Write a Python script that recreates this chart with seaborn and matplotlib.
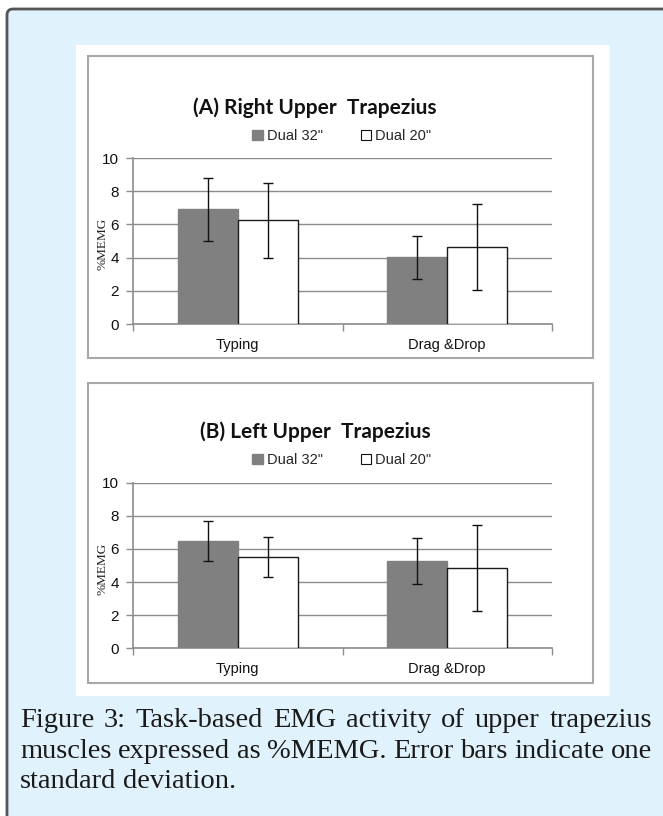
import pandas as pd
import seaborn as sns
import matplotlib.pyplot as plt
from matplotlib.patches import Rectangle, FancyBboxPatch, Patch
from matplotlib.container import BarContainer

tasks = ['Typing', 'Drag &Drop']
conditions = ['Dual 32"', 'Dual 20"']

# (A) right upper trapezius
right_mean_32 = [6.9, 4.02]
right_sd_32 = [1.92, 1.30]
right_mean_20 = [6.24, 4.65]
right_sd_20 = [2.28, 2.58]

# (B) left upper trapezius
left_mean_32 = [6.5, 5.28]
left_sd_32 = [1.2, 1.38]
left_mean_20 = [5.5, 4.84]
left_sd_20 = [1.2, 2.58]

titles = ['(A) Right Upper  Trapezius', '(B) Left Upper  Trapezius']
caption = ['Figure 3: Task-based EMG activity of upper trapezius',
           'muscles expressed as %MEMG. Error bars indicate one',
           'standard deviation.']

sns.set_theme(style='white')
plt.rcParams['font.family'] = ['Liberation Sans', 'DejaVu Sans']

W, H = 663, 816
fig = plt.figure(figsize=(W / 100, H / 100), dpi=100)
fig.patch.set_facecolor('white')

bg = fig.add_axes([0, 0, 1, 1], zorder=0)
bg.set_xlim(0, W)
bg.set_ylim(H, 0)
bg.axis('off')
bg.add_patch(FancyBboxPatch((7, 9), 720, 900, boxstyle='round,pad=0,rounding_size=6',
                            fc='#E0F2FC', ec='#555555', lw=2))
bg.add_patch(Rectangle((76, 45), 534, 651, fc='white', ec='none'))
bg.add_patch(Rectangle((88, 56), 505, 302, fc='none', ec='#a8a8a8', lw=1.5))
bg.add_patch(Rectangle((88, 383), 505, 300, fc='none', ec='#a8a8a8', lw=1.5))

panels = [
    dict(m32=right_mean_32, s32=right_sd_32, m20=right_mean_20, s20=right_sd_20,
         y0=324.0, y10=158.0, ty=108, ly=136),
    dict(m32=left_mean_32, s32=left_sd_32, m20=left_mean_20, s20=left_sd_20,
         y0=648.3, y10=482.7, ty=432, ly=460),
]

for i, p in enumerate(panels):
    df = pd.DataFrame({
        'task': tasks * 2,
        'cond': [conditions[0]] * 2 + [conditions[1]] * 2,
        'emg': p['m32'] + p['m20'],
    })
    sds = [p['s32'], p['s20']]
    ax = fig.add_axes([133 / W, (H - p['y0']) / H, 419 / W, (p['y0'] - p['y10']) / H], zorder=2)
    ax.patch.set_alpha(0)
    sns.barplot(data=df, x='task', y='emg', hue='cond', palette=['#808080', 'white'],
                width=0.575, errorbar=None, legend=False, ax=ax, zorder=3)
    bars = [c for c in ax.containers if isinstance(c, BarContainer)]
    for k, cont in enumerate(bars):
        xs, ys = [], []
        for bar in cont.patches:
            bar.set_edgecolor('#808080' if k == 0 else '#1a1a1a')
            bar.set_linewidth(1.0)
            xs.append(bar.get_x() + bar.get_width() / 2)
            ys.append(bar.get_height())
        ax.errorbar(xs, ys, yerr=sds[k], fmt='none', ecolor='#111111',
                    elinewidth=1.0, capsize=3.5, capthick=1.0, zorder=4)
    ax.set_ylim(0, 10)
    ax.set_xlim(-0.5, 1.5)
    ax.set_yticks([0, 2, 4, 6, 8, 10])
    ax.yaxis.grid(True, color='#8c8c8c', lw=1)
    ax.set_axisbelow(True)
    for s in ['top', 'right']:
        ax.spines[s].set_visible(False)
    for s in ['left', 'bottom']:
        ax.spines[s].set_color('#8c8c8c')
        ax.spines[s].set_linewidth(1.2)
    ax.tick_params(axis='y', length=5, color='#8c8c8c', width=1, labelsize=11, pad=5,
                   left=True, labelcolor='#111111')
    ax.set_xticks([0, 1])
    ax.set_xticklabels(tasks)
    ax.set_xticks([-0.5, 0.5, 1.5], minor=True)
    ax.tick_params(axis='x', which='major', length=0, labelsize=10.5, pad=10, labelcolor='#111111')
    ax.tick_params(axis='x', which='minor', length=5, color='#8c8c8c', width=1, bottom=True)
    ax.set_xlabel('')
    ax.set_ylabel('%MEMG', fontsize=9.5, family=['Liberation Serif', 'DejaVu Serif'],
                  color='#222222')
    ax.yaxis.set_label_coords(-0.058, 0.48)

    bg.text(315, p['ty'], titles[i], ha='center', va='center', fontsize=15,
            fontweight='bold', family=['Lato', 'DejaVu Sans'], color='#111111')
    handles = [Patch(fc='#808080', ec='#808080'), Patch(fc='white', ec='#111111', lw=0.8)]
    fig.legend(handles, conditions, loc='center', ncol=2, frameon=False,
               bbox_to_anchor=(342 / W, 1 - p['ly'] / H), fontsize=10.5,
               handlelength=0.7, handleheight=0.7, handletextpad=0.3,
               columnspacing=2.6)

# caption, justified like the source
renderer = fig.canvas.get_renderer()
left, right = 20, 652
baselines = [727, 758, 788]
cap_family = ['Liberation Serif', 'DejaVu Serif']
cap_size = 20.5
for j, line in enumerate(caption):
    words = line.split(' ')
    txts = [bg.text(0, baselines[j], w, fontsize=cap_size, family=cap_family,
                    color='#1a1a1a', va='baseline', ha='left') for w in words]
    widths = [t.get_window_extent(renderer).width for t in txts]
    if j < len(caption) - 1:
        gap = (right - left - sum(widths)) / (len(words) - 1)
    else:
        gap = cap_size * 100 / 72 * 0.25
    x = left
    for t, w in zip(txts, widths):
        t.set_x(x)
        x += w + gap

fig.savefig('out.png', dpi=100)
